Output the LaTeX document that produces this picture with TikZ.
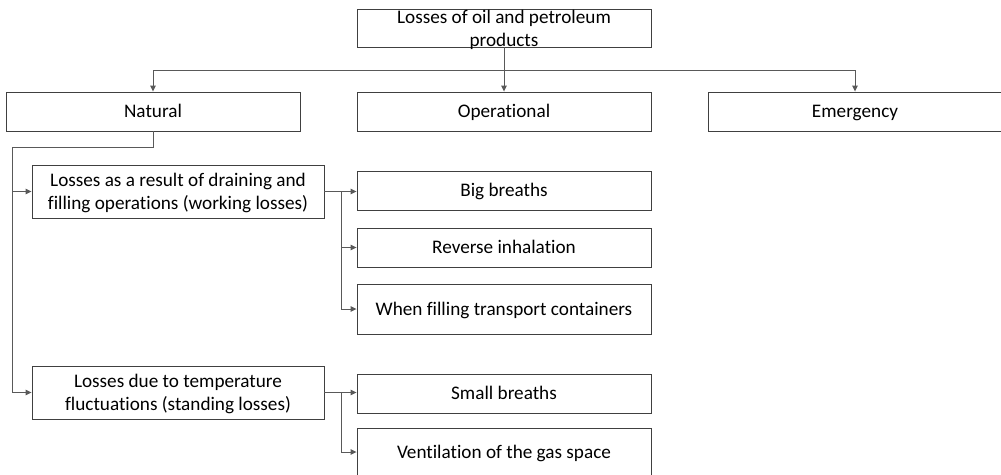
\documentclass[tikz,border=0pt]{standalone}
\usepackage{fontspec}
\setmainfont{Carlito}[Ligatures={NoCommon}]
\usetikzlibrary{arrows.meta,calc}
\definecolor{boxline}{HTML}{404040}
\definecolor{conline}{HTML}{595959}
\newcommand{\ms}{\rule[-4.6pt]{0pt}{21.6pt}}
\begin{document}
\begin{tikzpicture}[x=1pt,y=-1pt,
  box/.style={draw=boxline,line width=0.9pt,minimum width=294pt,inner sep=0pt,align=center,
    font=\fontsize{19.2}{23}\selectfont},
  con/.style={draw=conline,line width=0.9pt},
  arr/.style={con,-{Triangle[length=6pt,width=5.5pt]}}]
\useasboundingbox (0,0) rectangle (1001,474);
\clip (0,0) rectangle (1001,474);
% boxes
\node[box,minimum height=38pt] (top) at (504,28) {};
\node[align=center,inner sep=0pt,font=\fontsize{19.2}{23}\selectfont] (toptext) at (504,29) {\ms Losses of oil and petroleum\\\ms products};
\node[box,minimum height=39pt] (nat) at (153,111.5) {\ms Natural};
\node[box,minimum height=39pt] (op) at (504,111.5) {\ms Operational};
\node[box,minimum height=39pt] (em) at (855,111.5) {\ms Emergency};
\node[box,minimum width=292pt,minimum height=53pt] (A) at (178,191.5) {\ms Losses as a result of draining and\\\ms filling operations (working losses)};
\node[box,minimum width=292pt,minimum height=53pt] (B) at (178,392.5) {\ms Losses due to temperature\\\ms fluctuations (standing losses)};
\node[box,minimum height=39pt] (big) at (504,190.5) {\ms Big breaths};
\node[box,minimum height=39pt] (rev) at (504,247.5) {\ms Reverse inhalation};
\node[box,minimum height=50pt] (fill) at (504,309) {\ms When filling transport containers};
\node[box,minimum height=39pt] (small) at (504,393.5) {\ms Small breaths};
\node[box,minimum height=48pt] (vent) at (504,452) {\ms Ventilation of the gas space};
% top connectors
\coordinate (tj) at (504,70);
\draw[con] (top.south) -- (tj);
\draw[con] (nat.north |- tj) -- (em.north |- tj);
\draw[arr] (nat.north |- tj) -- (nat.north);
\draw[arr] (tj) -- (op.north);
\draw[arr] (em.north |- tj) -- (em.north);
% natural connectors
\coordinate (nj) at (153,147);
\coordinate (lx) at (12,147);
\draw[con] (nat.south) -- (nj) -- (lx) -- (lx |- B.west);
\draw[arr] (lx |- A.west) -- (A.west);
\draw[arr] (lx |- B.west) -- (B.west);
% A branch
\coordinate (ax) at (341,192);
\draw[con] (A.east) -- (ax |- A.east) -- (ax |- fill.west);
\draw[arr] (ax |- A.east) -- (big.west |- A.east);
\draw[arr] (ax |- rev.west) -- (rev.west);
\draw[arr] (ax |- fill.west) -- (fill.west);
% B branch
\coordinate (bx) at (341,393);
\draw[con] (B.east) -- (bx |- B.east) -- (bx |- vent.west);
\draw[arr] (bx |- B.east) -- (small.west |- B.east);
\draw[arr] (bx |- vent.west) -- (vent.west);
\end{tikzpicture}
\end{document}
